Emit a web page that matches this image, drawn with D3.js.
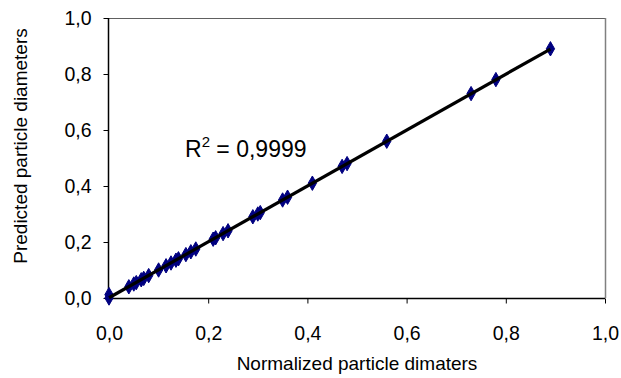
<!DOCTYPE html>
<html><head><meta charset="utf-8">
<script src="https://cdn.jsdelivr.net/npm/d3@7"></script>
<style>body{margin:0;background:#fff}svg{display:block;font-family:Arial,"Liberation Sans",sans-serif}</style>
</head><body>
<svg id="c" width="621" height="378"></svg>
<script>
const xValues = [0, 0, 0.04, 0.05, 0.055, 0.065, 0.07, 0.08, 0.1, 0.115, 0.125, 0.135, 0.14, 0.155, 0.165, 0.175, 0.21, 0.215, 0.23, 0.24, 0.29, 0.3, 0.305, 0.35, 0.36, 0.41, 0.47, 0.48, 0.56, 0.73, 0.78, 0.89];
const yValues = [0, 0.012, 0.04, 0.05, 0.055, 0.065, 0.07, 0.08, 0.1, 0.115, 0.125, 0.135, 0.14, 0.155, 0.165, 0.175, 0.21, 0.215, 0.23, 0.24, 0.29, 0.3, 0.305, 0.35, 0.36, 0.41, 0.47, 0.48, 0.56, 0.73, 0.78, 0.89];
const tickValues = [0, 0.2, 0.4, 0.6, 0.8, 1.0];
const tickLabels = ["0,0", "0,2", "0,4", "0,6", "0,8", "1,0"];
const xTitle = "Normalized particle dimaters";
const yTitle = "Predicted particle diameters";
const r2Label = "0,9999";

const svg = d3.select("#c");
const L = 109, R = 605, T = 18, B = 298;
const x = d3.scaleLinear().domain([0, 1]).range([L, R]);
const y = d3.scaleLinear().domain([0, 1]).range([B, T]);
const fs = 19;

// plot border (top, right)
svg.append("line").attr("x1", L).attr("x2", R).attr("y1", T + 0.5).attr("y2", T + 0.5).attr("stroke", "#606060").attr("stroke-width", 1.2);
svg.append("line").attr("x1", R + 0.5).attr("x2", R + 0.5).attr("y1", T).attr("y2", B).attr("stroke", "#808080").attr("stroke-width", 1.5);

// axes
const xAxis = d3.axisBottom(x).tickValues(tickValues).tickSize(5).tickFormat((d, i) => tickLabels[i]);
const yAxis = d3.axisLeft(y).tickValues(tickValues).tickSize(5).tickFormat((d, i) => tickLabels[i]);
const gx = svg.append("g").attr("transform", `translate(0,${B + 0.5})`).call(xAxis);
const gy = svg.append("g").attr("transform", `translate(${L - 0.5},0)`).call(yAxis);
[gx, gy].forEach(g => {
  g.select(".domain").attr("stroke", "#000").attr("stroke-width", 1.5);
  g.selectAll(".tick line").attr("stroke", "#000");
  g.selectAll(".tick text").attr("font-size", 19.5).attr("font-family", "Arial, 'Liberation Sans', sans-serif").attr("fill", "#000");
});
gx.select(".domain").attr("d", `M${L},0H${R}`);
gy.select(".domain").attr("d", `M0,${B}V${T}`);
gx.selectAll(".tick text").attr("dy", null).attr("y", 41);
gy.selectAll(".tick text").attr("x", -17).attr("dy", "0.35em");

// markers
const diamond = d3.symbol().type(d3.symbolDiamond).size(60);
svg.append("g").selectAll("path").data(xValues.map((v, i) => [v, yValues[i]])).join("path")
  .attr("d", diamond)
  .attr("transform", d => `translate(${x(d[0])},${y(d[1])})`)
  .attr("fill", "#000080").attr("stroke", "#000080").attr("stroke-width", 1);

// trendline (least squares)
const mx = d3.mean(xValues), my = d3.mean(yValues);
const slope = d3.sum(xValues.map((v, i) => (v - mx) * (yValues[i] - my))) / d3.sum(xValues.map(v => (v - mx) ** 2));
const icpt = my - slope * mx;
const x0 = d3.min(xValues), x1 = d3.max(xValues);
svg.append("line")
  .attr("x1", x(x0)).attr("y1", y(icpt + slope * x0))
  .attr("x2", x(x1)).attr("y2", y(icpt + slope * x1))
  .attr("stroke", "#000").attr("stroke-width", 3.2);

// R² label
const rt = svg.append("text").attr("x", 185).attr("y", 157).attr("font-size", 23).attr("fill", "#000");
rt.append("tspan").text("R");
rt.append("tspan").attr("font-size", 15).attr("dy", -10).text("2");
rt.append("tspan").attr("dy", 10).text(" = " + r2Label);

// titles
svg.append("text").attr("x", (L + R) / 2).attr("y", 370).attr("text-anchor", "middle").attr("font-size", fs).text(xTitle);
svg.append("text").attr("transform", `translate(27,146) rotate(-90)`).attr("text-anchor", "middle").attr("font-size", fs).text(yTitle);
</script>
</body></html>
